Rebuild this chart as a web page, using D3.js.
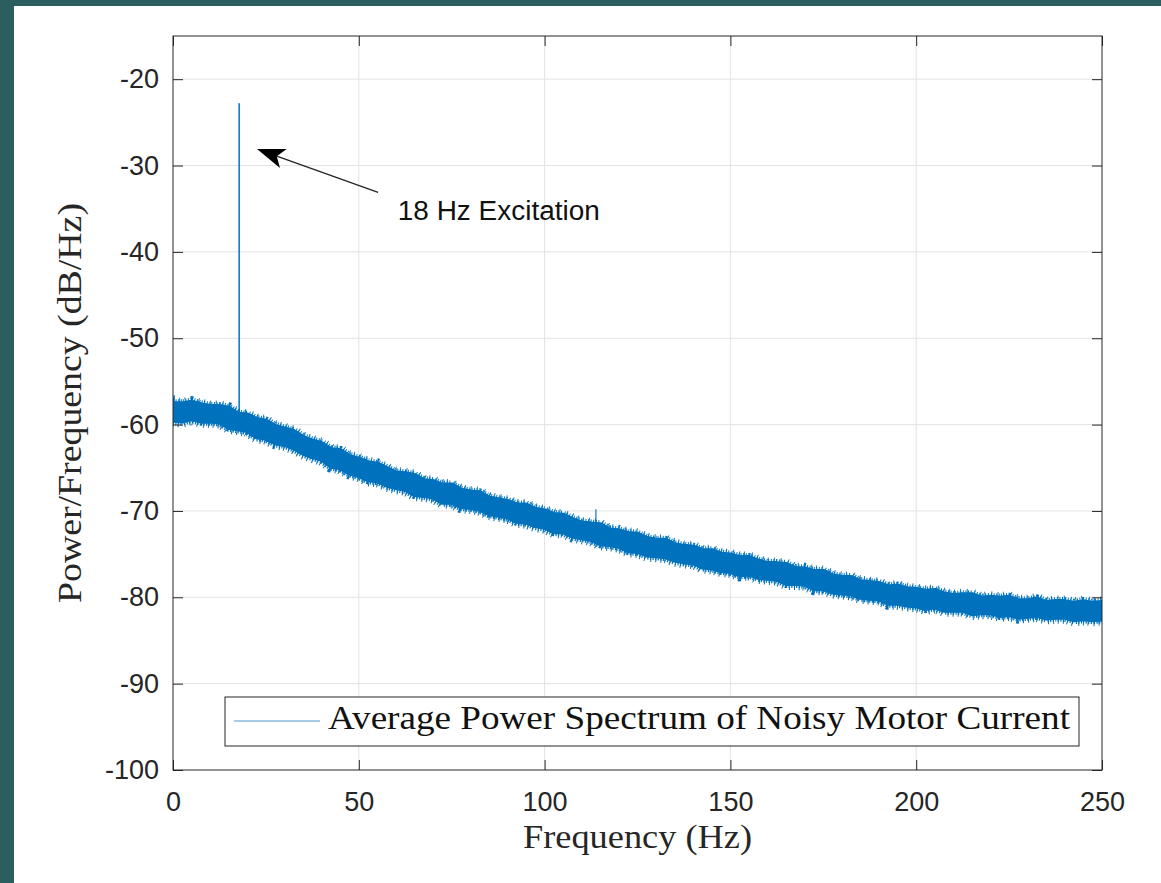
<!DOCTYPE html>
<html>
<head>
<meta charset="utf-8">
<script src="https://cdn.jsdelivr.net/npm/d3@7"></script>
<style>
  body { margin: 0; background: #2b5e5e; }
  svg { display: block; }
</style>
</head>
<body>
<svg id="psd"></svg>
<script>
// frequency bins (Hz) and band envelope (dB/Hz)
const freqs = [0,2.5,5,7.5,10,12.5,15,17.5,20,22.5,25,27.5,30,32.5,35,37.5,40,42.5,45,47.5,
  50,52.5,55,57.5,60,62.5,65,67.5,70,72.5,75,77.5,80,82.5,85,87.5,90,92.5,95,97.5,
  100,102.5,105,107.5,110,112.5,115,117.5,120,122.5,125,127.5,130,132.5,135,137.5,140,142.5,145,147.5,
  150,152.5,155,157.5,160,162.5,165,167.5,170,172.5,175,177.5,180,182.5,185,187.5,190,192.5,195,197.5,
  200,202.5,205,207.5,210,212.5,215,217.5,220,222.5,225,227.5,230,232.5,235,237.5,240,242.5,245,247.5,250];
const upper = [-57.6,-57.6,-57.4,-57.7,-57.9,-57.9,-58.1,-58.8,-58.9,-59.4,-59.6,-60.2,-60.5,-60.8,-61.5,-61.9,-62.2,-62.9,-63.0,-63.7,
  -64.0,-64.4,-64.6,-65.1,-65.6,-65.7,-65.9,-66.5,-66.6,-67.0,-67.0,-67.6,-67.8,-67.9,-68.5,-68.7,-68.9,-69.3,-69.3,-69.8,
  -70.0,-70.4,-70.5,-71.0,-71.4,-71.5,-71.6,-72.2,-72.3,-72.6,-72.7,-73.2,-73.4,-73.4,-73.9,-74.1,-74.2,-74.6,-74.6,-75.0,
  -75.1,-75.4,-75.4,-75.8,-76.1,-76.1,-76.2,-76.7,-76.7,-77.0,-77.0,-77.5,-77.7,-77.7,-78.2,-78.3,-78.4,-78.8,-78.7,-79.0,
  -79.1,-79.3,-79.2,-79.6,-79.8,-79.7,-79.7,-80.1,-80.0,-80.1,-80.0,-80.4,-80.4,-80.2,-80.6,-80.5,-80.5,-80.7,-80.5,-80.7,-80.6];
const lower = [-59.5,-59.6,-59.3,-59.6,-59.6,-59.7,-60.3,-60.5,-60.7,-61.4,-61.6,-62.1,-62.3,-62.7,-63.3,-63.7,-64.0,-64.8,-65.0,-65.6,
  -65.9,-66.4,-66.5,-67.0,-67.3,-67.5,-68.1,-68.2,-68.4,-69.0,-69.0,-69.5,-69.6,-69.8,-70.3,-70.5,-70.7,-71.2,-71.3,-71.7,
  -71.9,-72.4,-72.4,-72.9,-73.1,-73.3,-73.8,-73.9,-74.1,-74.6,-74.7,-75.1,-75.2,-75.3,-75.7,-75.9,-76.0,-76.5,-76.6,-76.9,
  -77.0,-77.4,-77.3,-77.7,-77.8,-77.9,-78.4,-78.4,-78.5,-79.0,-79.0,-79.4,-79.5,-79.6,-80.0,-80.1,-80.2,-80.7,-80.7,-80.9,
  -81.0,-81.3,-81.1,-81.5,-81.5,-81.5,-81.9,-81.8,-81.8,-82.1,-82.0,-82.3,-82.2,-82.1,-82.4,-82.3,-82.3,-82.6,-82.5,-82.6,-82.5];

// narrow peaks
const spikeFreq = [0.3, 17.8, 113.8];
const spikeBase = [-58.5, -59.6, -72.6];
const spikeTop = [-56.6, -22.8, -69.8];

const xTicks = [0, 50, 100, 150, 200, 250];
const yTicks = [-100, -90, -80, -70, -60, -50, -40, -30, -20];

// annotation (data coords)
const arrowTail = [55.2, -33.1];
const arrowTip = [22.6, -28.1];
const noteText = "18 Hz Excitation";
const notePos = [60.5, -36.3];
const legendText = "Average Power Spectrum of Noisy Motor Current";

let W = 1161, H = 883;
let margin = {top: 36, right: 59, bottom: 113, left: 173},
  width = W - margin.left - margin.right,
  height = H - margin.top - margin.bottom;

let root = d3.select("#psd").attr("width", W).attr("height", H);
root.append("rect").attr("x", 14).attr("y", 6).attr("width", W - 14).attr("height", H - 6).attr("fill", "#fff");

let svg = root.append("g").attr("transform", "translate(" + margin.left + "," + margin.top + ")");

let x = d3.scaleLinear().domain([0, 250]).range([0, width]);
let y = d3.scaleLinear().domain([-100, -15]).range([height, 0]);

const blue = "#0072BD", ink = "#262626";
const sans = "'Liberation Sans', Arial, Helvetica, sans-serif";
const serif = "'Liberation Serif', 'DejaVu Serif', serif";

// grid
svg.append("g").selectAll("line").data(xTicks.slice(1, -1)).join("line")
  .attr("x1", d => x(d)).attr("x2", d => x(d)).attr("y1", 0).attr("y2", height)
  .attr("stroke", "#e3e3e3");
svg.append("g").selectAll("line").data(yTicks.slice(1)).join("line")
  .attr("x1", 0).attr("x2", width).attr("y1", d => y(d)).attr("y2", d => y(d))
  .attr("stroke", "#e3e3e3");

// noise band
let band = freqs.map((f, i) => ({f: f, hi: upper[i], lo: lower[i]}));
svg.append("clipPath").attr("id", "plotclip")
  .append("rect").attr("width", width).attr("height", height);
let bg = svg.append("g").attr("clip-path", "url(#plotclip)");
let area = d3.area().x(d => x(d.f)).y0(d => y(d.lo)).y1(d => y(d.hi));
bg.append("path").datum(band).attr("d", area)
  .attr("fill", blue).attr("stroke", blue).attr("stroke-width", 5)
  .attr("stroke-linejoin", "round");

// fuzzy edges of the band (noise hairs)
let hiLine = d3.line().x(d => x(d.f)).y(d => y(d.hi));
let loLine = d3.line().x(d => x(d.f)).y(d => y(d.lo));
[[hiLine, 9, "1 1.6"], [loLine, 9, "1.2 1.4"], [hiLine, 12, "0.9 5.3"], [loLine, 13, "1 4.1"]]
  .forEach(([gen, w, dash]) => {
    bg.append("path").datum(band).attr("d", gen)
      .attr("fill", "none").attr("stroke", blue)
      .attr("stroke-width", w).attr("stroke-dasharray", dash);
  });

// peaks
svg.append("g").selectAll("line").data(spikeFreq).join("line")
  .attr("x1", d => x(d)).attr("x2", d => x(d))
  .attr("y1", (d, i) => y(spikeBase[i])).attr("y2", (d, i) => y(spikeTop[i]))
  .attr("stroke", blue).attr("stroke-width", 1.5)
  .attr("stroke-opacity", (d, i) => i === 2 ? 0.75 : 1);

// axes, ticks pointing inward
function styleAxis(g, noLabels) {
  g.select(".domain").remove();
  g.selectAll(".tick line").attr("stroke", ink);
  g.selectAll("text").attr("fill", ink).style("font-family", sans).style("font-size", "27px");
  if (noLabels) g.selectAll("text").remove();
}
let fmt = d => String(d);
svg.append("g").attr("transform", "translate(0," + height + ")")
  .call(d3.axisBottom(x).tickValues(xTicks).tickFormat(fmt).tickSize(-10).tickPadding(22))
  .call(g => styleAxis(g, false));
svg.append("g")
  .call(d3.axisTop(x).tickValues(xTicks).tickSize(-10))
  .call(g => styleAxis(g, true));
svg.append("g")
  .call(d3.axisLeft(y).tickValues(yTicks).tickFormat(fmt).tickSize(-10).tickPadding(14))
  .call(g => styleAxis(g, false));
svg.append("g").attr("transform", "translate(" + width + ",0)")
  .call(d3.axisRight(y).tickValues(yTicks).tickSize(-10))
  .call(g => styleAxis(g, true));

svg.append("rect").attr("width", width).attr("height", height)
  .attr("fill", "none").attr("stroke", ink).attr("stroke-width", 1);

// axis labels
svg.append("text").attr("x", width / 2).attr("y", height + 78)
  .attr("text-anchor", "middle").attr("fill", ink)
  .style("font-family", serif).style("font-size", "34px")
  .attr("textLength", 229).attr("lengthAdjust", "spacingAndGlyphs")
  .text("Frequency (Hz)");
svg.append("text").attr("transform", "translate(" + (81 - margin.left) + "," + (height / 2) + ") rotate(-90)")
  .attr("text-anchor", "middle").attr("fill", ink)
  .style("font-family", serif).style("font-size", "34px")
  .attr("textLength", 400).attr("lengthAdjust", "spacingAndGlyphs")
  .text("Power/Frequency (dB/Hz)");

// annotation arrow
let tx = x(arrowTail[0]), ty = y(arrowTail[1]);
let px = x(arrowTip[0]), py = y(arrowTip[1]);
let len = Math.hypot(px - tx, py - ty), ux = (px - tx) / len, uy = (py - ty) / len;
let L = 28, hw = 10;
let bx = px - ux * L, by = py - uy * L;
let nx = px - ux * L * 0.75, ny = py - uy * L * 0.75;
svg.append("line").attr("x1", tx).attr("y1", ty).attr("x2", nx).attr("y2", ny)
  .attr("stroke", ink).attr("stroke-width", 1.4);
svg.append("path")
  .attr("d", "M" + px + "," + py +
    "L" + (bx - uy * hw) + "," + (by + ux * hw) +
    "L" + nx + "," + ny +
    "L" + (bx + uy * hw) + "," + (by - ux * hw) + "Z")
  .attr("fill", "#000");
svg.append("text").attr("x", x(notePos[0])).attr("y", y(notePos[1]))
  .attr("fill", "#111").style("font-family", sans).style("font-size", "27px")
  .attr("textLength", 202).attr("lengthAdjust", "spacingAndGlyphs")
  .text(noteText);

// legend
let lg = svg.append("g").attr("transform", "translate(" + (225 - margin.left) + "," + (697 - margin.top) + ")");
lg.append("rect").attr("width", 854).attr("height", 49)
  .attr("fill", "#fff").attr("stroke", ink).attr("stroke-width", 1);
lg.append("line").attr("x1", 9).attr("x2", 95).attr("y1", 24).attr("y2", 24)
  .attr("stroke", blue).attr("stroke-width", 1.2).attr("stroke-opacity", 0.7);
lg.append("text").attr("x", 103).attr("y", 32).attr("fill", "#111")
  .style("font-family", serif).style("font-size", "34px")
  .attr("textLength", 742).attr("lengthAdjust", "spacingAndGlyphs")
  .text(legendText);
</script>
</body>
</html>
